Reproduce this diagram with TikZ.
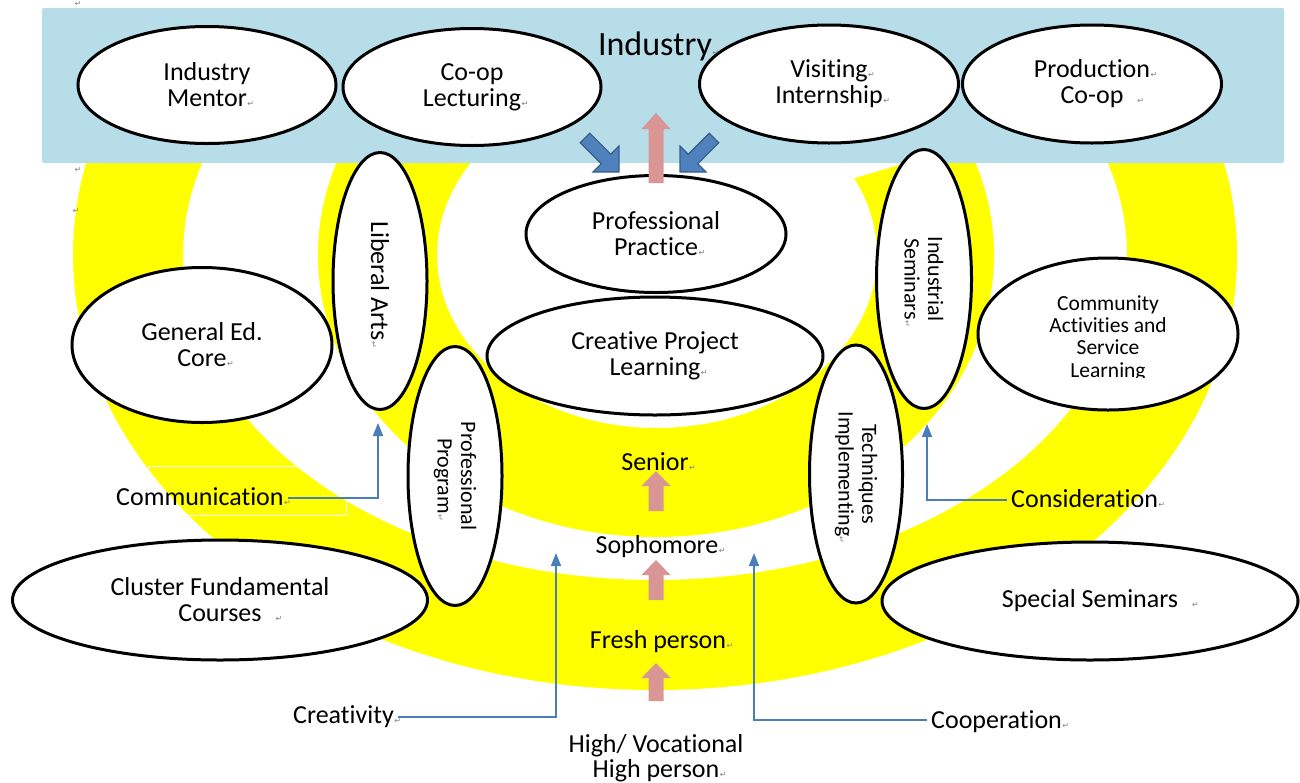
\documentclass[tikz,border=0pt]{standalone}
\usepackage{fontspec}
\setmainfont{Carlito}[Ligatures={NoCommon,NoRare,NoContextual}]
\newfontfamily\symfont{DejaVu Sans}
\usetikzlibrary{shapes.geometric,arrows.meta}
\definecolor{bandyellow}{HTML}{FFFF00}
\definecolor{skyfill}{HTML}{B7DEE8}
\definecolor{pinkarrow}{HTML}{D99694}
\definecolor{bluearrow}{HTML}{4F81BD}
\definecolor{bluedark}{HTML}{385D8A}
\definecolor{connblue}{HTML}{4A7EBB}
\definecolor{markgray}{HTML}{808080}
\newcommand{\fsIndustry}{\fontsize{34}{40}\selectfont}
\newcommand{\fsMain}{\fontsize{26}{26}\selectfont}
\newcommand{\fsSmall}{\fontsize{22}{23.5}\selectfont}
\newcommand{\fsComm}{\fontsize{21.5}{22.3}\selectfont}
\newcommand{\pmk}{\rlap{\hspace{0.5pt}{\symfont\fontsize{8}{8}\selectfont\textcolor{markgray}{↵}}}}
\newcommand{\pmkfar}{\rlap{\hspace{14pt}{\symfont\fontsize{8}{8}\selectfont\textcolor{markgray}{↵}}}}
\newcommand{\upblk}[4]{\fill[pinkarrow] (#1-7.5,#4) -- (#1-7.5,#3) -- (#1-14.5,#3) -- (#1,#2) -- (#1+14.5,#3) -- (#1+7.5,#3) -- (#1+7.5,#4) -- cycle;}
\begin{document}
\begin{tikzpicture}[x=1pt,y=-1pt,
  oval/.style={ellipse, draw=black, line width=3pt, fill=white, inner sep=0pt, align=center, font=\fsMain},
  smalloval/.style={oval, font=\fsSmall},
  lbl/.style={inner xsep=4pt, inner ysep=0pt, font=\fsMain},
  conn/.style={draw=connblue, line width=1.8pt, -{Triangle[width=10pt,length=13pt]}},
  retmark/.style={inner sep=0pt, font=\symfont\fontsize{8}{8}\selectfont, text=markgray},
  blkblue/.style={fill=bluearrow, draw=bluedark, line width=1.2pt, line join=miter},
]
\useasboundingbox (0,0) rectangle (1300,782);

% yellow bands
\begin{scope}
  \clip (0,163) rectangle (1300,782);
  \fill[bandyellow, even odd rule]
    (655,255) ellipse [x radius=582pt, y radius=435pt]
    (655,255) ellipse [x radius=472pt, y radius=325pt]
    (656,255) ellipse [x radius=338pt, y radius=282pt]
    (657,255) ellipse [x radius=220pt, y radius=173pt];
\end{scope}
\fill[white] (840,182.5) -- (1000,134.5) -- (840,134.5) -- cycle;
\draw[white, line width=1pt] (148,466) rectangle (346,515);

% industry band
\fill[skyfill, rounded corners=2pt] (42,8) rectangle (1284,163);

% ellipses
\node[oval, minimum width=258pt, minimum height=117pt] (mentor) at (207,85) {Industry\\Mentor\pmk};
\node[oval, minimum width=258pt, minimum height=117pt] (coop) at (472,87) {Co-op\\Lecturing\pmk};
\node[oval, minimum width=259pt, minimum height=118pt] (visit) at (829,84) {Visiting\pmk\\Internship\pmk};
\node[oval, minimum width=259pt, minimum height=118pt] (prod) at (1092,84) {Production\pmk\\Co-op\pmkfar};
\node[oval, minimum width=260pt, minimum height=117pt] (practice) at (656,234) {Professional\\Practice\pmk};
\node[oval, minimum width=336pt, minimum height=118pt] (creative) at (655,356) {Creative Project\\Learning\pmk};
\node[oval, minimum width=260pt, minimum height=155pt] (gened) at (202,345) {General Ed.\\Core\pmk};
\node[oval, rotate=-90, minimum width=257pt, minimum height=94pt] (libarts) at (380,281) {Liberal Arts\pmk};
\node[smalloval, rotate=-90, minimum width=259pt, minimum height=95pt] (indsem) at (924,279) {Industrial\\Seminars\pmk};
\node[oval, minimum width=260pt, minimum height=152pt] (commact) at (1108,334) {};
\begin{scope}
  \clip (978,150) rectangle (1240,377);
  \node[align=center, font=\fsComm, inner sep=0pt] (commtext) at (1108,338) {Community\\Activities and\\Service\\Learning};
\end{scope}
\node[smalloval, rotate=-90, minimum width=259pt, minimum height=94pt] (profprog) at (455,476) {Professional\\Program\pmk};
\node[smalloval, rotate=-90, minimum width=258pt, minimum height=93pt] (tech) at (856,474) {Techniques\\Implementing\pmk};
\node[oval, minimum width=415pt, minimum height=120pt] (cluster) at (220,600) {Cluster Fundamental\\Courses\pmkfar};
\node[oval, minimum width=416pt, minimum height=118pt] (special) at (1090,601) {Special Seminars\pmkfar};

% block arrows
\upblk{656}{113}{129}{183}
\upblk{656}{471}{486}{511}
\upblk{656}{560}{575}{600}
\upblk{656}{663}{678}{701}
\filldraw[blkblue] (580.2,142.8) -- (601.2,163.8) -- (593,172) -- (619,172) -- (619,146) -- (610.8,154.2) -- (589.8,133.2) -- cycle;
\filldraw[blkblue] (718.8,142.8) -- (697.8,163.8) -- (706,172) -- (680,172) -- (680,146) -- (688.2,154.2) -- (709.2,133.2) -- cycle;

% texts
\node[font=\fsIndustry, anchor=base, inner sep=0pt] (industry) at (655,55) {Industry\pmk};
\node[lbl, anchor=base] (senior) at (655,470) {Senior\pmk};
\node[lbl, anchor=base] (soph) at (657,553) {Sophomore\pmk};
\node[lbl, anchor=base] (fresh) at (658,648) {Fresh person\pmk};
\node[lbl, align=center, font=\fontsize{26}{25.5}\selectfont] (high) at (656,758) {High/ Vocational\\High person\pmk};
\node[lbl, anchor=base west] (commlbl) at (112,505) {Communication\pmk};
\node[lbl, anchor=base west] (creat) at (289,723) {Creativity\pmk};
\node[lbl, anchor=base west] (coopl) at (927,728) {Cooperation\pmk};
\node[lbl, anchor=base west] (consid) at (1007,507) {Consideration\pmk};

% stray paragraph marks
\node[retmark] (pm1) at (78,4) {↵};
\node[retmark] (pm2) at (78,170) {↵};
\node[retmark] (pm3) at (76,211) {↵};

% connectors
\coordinate (crtip) at (556,553);
\coordinate (cotip) at (754,553);
\draw[conn] ([yshift=7pt]commlbl.base east) -| ([xshift=-2pt,yshift=-12pt]libarts.east);
\draw[conn] ([yshift=6pt]creat.base east) -| (crtip);
\draw[conn] ([yshift=8pt]coopl.base west) -| (cotip);
\draw[conn] ([yshift=7pt]consid.base west) -| ([xshift=3pt,yshift=-14pt]indsem.east);
\end{tikzpicture}
\end{document}
